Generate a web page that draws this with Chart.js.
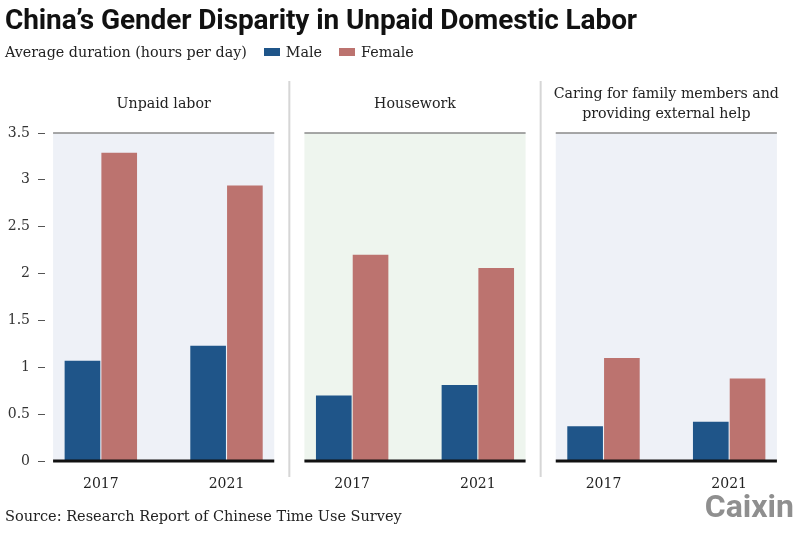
<!DOCTYPE html>
<html>
<head>
<meta charset="utf-8">
<script src="https://cdn.jsdelivr.net/npm/chart.js@4.4.1/dist/chart.umd.min.js"></script>
<style>
  html, body { margin: 0; padding: 0; background: #ffffff; }
  #wrap { position: relative; width: 800px; height: 533px; overflow: hidden; }
  #c { position: absolute; left: 0; top: 0; }
  .title { position: absolute; left: 5px; top: 2px; font-family: Roboto, "Liberation Sans", sans-serif; font-weight: 700; font-size: 28px; letter-spacing: -0.1px; color: #111; white-space: nowrap; line-height: 36px; }
  .sub { position: absolute; left: 5px; top: 41px; display: flex; align-items: center; font-family: "DejaVu Serif", serif; font-size: 14.3px; color: #222; white-space: nowrap; line-height: 22px; }
  .sub .box { display: inline-block; width: 16px; height: 8px; margin-right: 6px; }
  .sub .item { display: flex; align-items: center; margin-left: 17px; }
  .ptitle { position: absolute; font-family: "DejaVu Serif", serif; font-size: 14.2px; color: #222; text-align: center; line-height: 20px; }
  .source { position: absolute; left: 5px; top: 505px; font-family: "DejaVu Serif", serif; font-size: 14.5px; color: #222; white-space: nowrap; line-height: 22px; }
  .logo { position: absolute; right: 6px; top: 488px; font-family: Roboto, "Liberation Sans", sans-serif; font-weight: 700; font-size: 32px; color: #8f8f8f; line-height: 36px; letter-spacing: 0px; }
</style>
</head>
<body>
<div id="wrap">
  <canvas id="c" width="800" height="533"></canvas>
  <div class="title" id="title"></div>
  <div class="sub" id="sub"></div>
  <div id="ptitles"></div>
  <div class="source" id="source"></div>
  <div class="logo">Caixin</div>
</div>
<script>
// ---- Data ----
const chartTitle = 'China\u2019s Gender Disparity in Unpaid Domestic Labor';
const unitLabel = 'Average duration (hours per day)';
const sourceText = 'Source: Research Report of Chinese Time Use Survey';
const panels = ['Unpaid labor', 'Housework', 'Caring for family members and|providing external help'];
const years = ['2017', '2021'];
const seriesNames = ['Male', 'Female'];
const maleHours = [1.07, 1.23, 0.70, 0.81, 0.37, 0.42];
const femaleHours = [3.29, 2.94, 2.20, 2.06, 1.10, 0.88];
const yMax = 3.5;
const yStep = 0.5;

// ---- Styles ----
const colors = ['#1f5589', '#bc736f'];
const panelBg = ['#eef1f7', '#eef5ee', '#eef1f7'];

const labels = [];
panels.forEach(() => years.forEach(y => labels.push(y)));

document.getElementById('title').textContent = chartTitle;
const sub = document.getElementById('sub');
const u = document.createElement('span'); u.textContent = unitLabel; sub.appendChild(u);
seriesNames.forEach((n, i) => {
  const it = document.createElement('span'); it.className = 'item';
  const b = document.createElement('span'); b.className = 'box'; b.style.background = colors[i];
  const t = document.createElement('span'); t.textContent = n;
  it.appendChild(b); it.appendChild(t); sub.appendChild(it);
});
document.getElementById('source').textContent = sourceText;

const serif = '"DejaVu Serif", serif';

function panelRange(xs, i) {
  const w = xs.getPixelForValue(1) - xs.getPixelForValue(0);
  const a = xs.getPixelForValue(i * years.length) - 0.38 * w;
  const b = xs.getPixelForValue(i * years.length + years.length - 1) + 0.38 * w;
  return [a, b];
}

const panelPlugin = {
  id: 'panels',
  beforeDatasetsDraw(chart) {
    const {ctx, chartArea, scales} = chart;
    const xs = scales.x;
    ctx.save();
    panels.forEach((p, i) => {
      const [a, b] = panelRange(xs, i);
      ctx.fillStyle = panelBg[i];
      ctx.fillRect(a, chartArea.top, b - a, chartArea.bottom - chartArea.top);
      ctx.strokeStyle = '#8a8a8a';
      ctx.lineWidth = 1.5;
      ctx.beginPath(); ctx.moveTo(a, chartArea.top); ctx.lineTo(b, chartArea.top); ctx.stroke();
      if (i > 0) {
        const sx = (xs.getPixelForValue(i * years.length - 1) + xs.getPixelForValue(i * years.length)) / 2;
        ctx.strokeStyle = '#d6d6d6';
        ctx.lineWidth = 2;
        ctx.beginPath(); ctx.moveTo(sx, chartArea.top - 52); ctx.lineTo(sx, chartArea.bottom + 16); ctx.stroke();
      }
    });
    ctx.restore();
  },
  afterDatasetsDraw(chart) {
    const {ctx, chartArea, scales} = chart;
    const xs = scales.x;
    ctx.save();
    ctx.strokeStyle = '#111';
    ctx.lineWidth = 3;
    panels.forEach((p, i) => {
      const [a, b] = panelRange(xs, i);
      ctx.beginPath(); ctx.moveTo(a, chartArea.bottom); ctx.lineTo(b, chartArea.bottom); ctx.stroke();
    });
    ctx.restore();
  },
  afterRender(chart) {
    if (chart._titlesPlaced) return;
    chart._titlesPlaced = true;
    const xs = chart.scales.x;
    const host = document.getElementById('ptitles');
    panels.forEach((p, i) => {
      const [a, b] = panelRange(xs, i);
      const lines = p.split('|');
      const d = document.createElement('div');
      d.className = 'ptitle';
      d.style.left = (a - 10) + 'px';
      d.style.width = (b - a + 20) + 'px';
      d.style.top = (93 - (lines.length - 1) * 10) + 'px';
      d.innerHTML = lines.map(l => l.replace(/&/g, '&amp;')).join('<br>');
      host.appendChild(d);
    });
  }
};

new Chart(document.getElementById('c'), {
  type: 'bar',
  data: {
    labels: labels,
    datasets: [
      { label: seriesNames[0], data: maleHours, backgroundColor: colors[0], borderWidth: 0 },
      { label: seriesNames[1], data: femaleHours, backgroundColor: colors[1], borderWidth: 0 }
    ]
  },
  options: {
    responsive: false,
    animation: false,
    devicePixelRatio: 1,
    layout: { padding: { top: 133, bottom: 42, left: 0, right: 8 } },
    datasets: { bar: { categoryPercentage: 0.585, barPercentage: 0.97 } },
    plugins: { legend: { display: false }, tooltip: { enabled: false } },
    scales: {
      x: {
        grid: { display: false },
        border: { display: false },
        ticks: { font: { family: serif, size: 14 }, color: '#222', padding: 7 },
        afterFit(s) { s.height = 30; }
      },
      y: {
        min: 0, max: yMax,
        ticks: { stepSize: yStep, font: { family: serif, size: 14 }, color: '#333', padding: 15,
                 callback: v => String(v) },
        grid: { display: true, drawOnChartArea: false, drawTicks: true, tickLength: -7, color: '#555', lineWidth: 1 },
        border: { display: false },
        afterFit(s) { s.width = 38; }
      }
    }
  },
  plugins: [panelPlugin]
});
</script>
</body>
</html>
